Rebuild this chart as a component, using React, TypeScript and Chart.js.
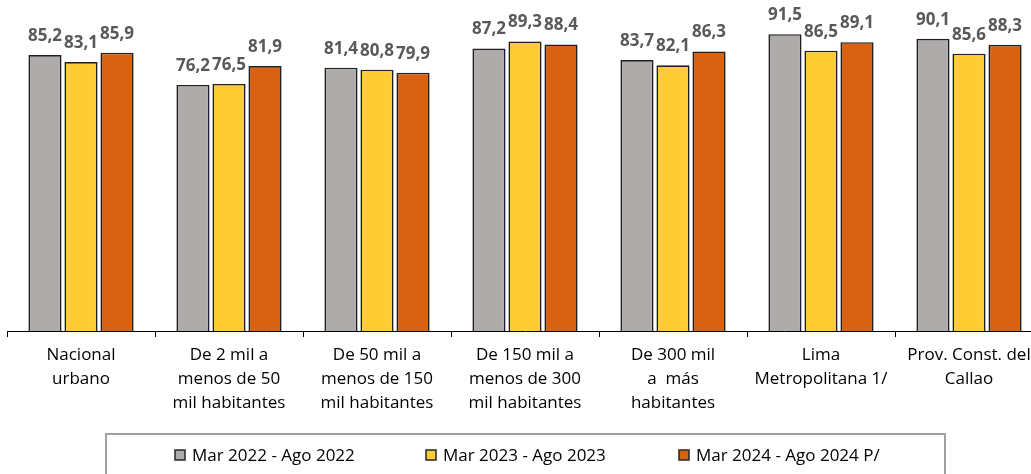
import React, { useEffect, useRef } from "react";
import { Chart, registerables } from "chart.js";

Chart.register(...registerables);

const categories: string[][] = [
  ["Nacional", "urbano"],
  ["De 2 mil a", "menos de 50", "mil habitantes"],
  ["De 50 mil a", "menos de 150", "mil habitantes"],
  ["De 150 mil a", "menos de 300", "mil habitantes"],
  ["De 300 mil", "a  más", "habitantes"],
  ["Lima", "Metropolitana 1/"],
  ["Prov. Const. del", "Callao"],
];

const seriesNames = ["Mar 2022 - Ago 2022", "Mar 2023 - Ago 2023", "Mar 2024 - Ago 2024 P/"];
const values2022 = [85.2, 76.2, 81.4, 87.2, 83.7, 91.5, 90.1];
const values2023 = [83.1, 76.5, 80.8, 89.3, 82.1, 86.5, 85.6];
const values2024 = [85.9, 81.9, 79.9, 88.4, 86.3, 89.1, 88.3];
const colors = ["#AFABAB", "#FFCC33", "#D96212"];

const W = 1050;
const H = 474;

const labelPlugin = {
  id: "valueLabels",
  afterDatasetsDraw(chart: any) {
    const ctx = chart.ctx;
    ctx.save();
    ctx.font = "bold 17px 'Open Sans'";
    ctx.fillStyle = "#595959";
    ctx.textAlign = "center";
    ctx.textBaseline = "alphabetic";
    chart.data.datasets.forEach((ds: any, i: number) => {
      const meta = chart.getDatasetMeta(i);
      meta.data.forEach((bar: any, j: number) => {
        const v = ds.data[j] as number;
        ctx.fillText(v.toFixed(1).replace(".", ","), bar.x, bar.y - 14);
      });
    });
    ctx.restore();
  },
};

const legendPlugin = {
  id: "customLegend",
  afterDraw(chart: any) {
    const ctx = chart.ctx;
    ctx.save();
    ctx.strokeStyle = "#A0A0A0";
    ctx.lineWidth = 2;
    ctx.strokeRect(106, 434, 839, 60);
    const starts = [175, 426, 679];
    ctx.font = "17px 'Open Sans'";
    ctx.textBaseline = "alphabetic";
    ctx.textAlign = "left";
    chart.data.datasets.forEach((ds: any, i: number) => {
      const x = starts[i];
      ctx.fillStyle = ds.backgroundColor;
      ctx.fillRect(x, 450, 10, 10);
      ctx.strokeStyle = "#262626";
      ctx.lineWidth = 1.5;
      ctx.strokeRect(x, 450, 10, 10);
      ctx.fillStyle = "#000000";
      ctx.fillText(ds.label, x + 17, 461);
    });
    ctx.restore();
  },
};

export default function App() {
  const ref = useRef<HTMLCanvasElement>(null);
  useEffect(() => {
    if (!ref.current) return;
    const data = [values2022, values2023, values2024];
    const chart = new Chart(ref.current, {
      type: "bar",
      data: {
        labels: categories,
        datasets: data.map((d, i) => ({
          label: seriesNames[i],
          data: d,
          backgroundColor: colors[i],
          borderColor: "#1F1F1F",
          borderWidth: 1.6,
          barPercentage: 0.92,
          categoryPercentage: 0.73,
        })),
      },
      options: {
        responsive: false,
        animation: false,
        layout: { padding: { top: 6, left: 7, right: 7, bottom: 0 } },
        plugins: { legend: { display: false }, tooltip: { enabled: false } },
        scales: {
          x: {
            grid: {
              display: true,
              drawOnChartArea: false,
              drawTicks: true,
              tickLength: 6,
              color: "#000000",
              offset: true,
            },
            border: { display: true, color: "#000000", width: 1 },
            ticks: {
              color: "#000000",
              font: { family: "'Open Sans'", size: 17, lineHeight: 1.42 },
              padding: 6,
              autoSkip: false,
              maxRotation: 0,
              minRotation: 0,
            },
            afterFit(scale: any) {
              scale.height = 143;
            },
          },
          y: {
            display: false,
            min: 2,
            max: 100,
          },
        },
      },
      plugins: [labelPlugin, legendPlugin],
    });
    return () => chart.destroy();
  }, []);
  return (
    <div style={{ position: "absolute", left: 0, top: 0, width: 1031, height: 474, overflow: "hidden", background: "#fff" }}>
      <canvas ref={ref} width={W} height={H} style={{ width: W, height: H, display: "block" }} />
    </div>
  );
}
